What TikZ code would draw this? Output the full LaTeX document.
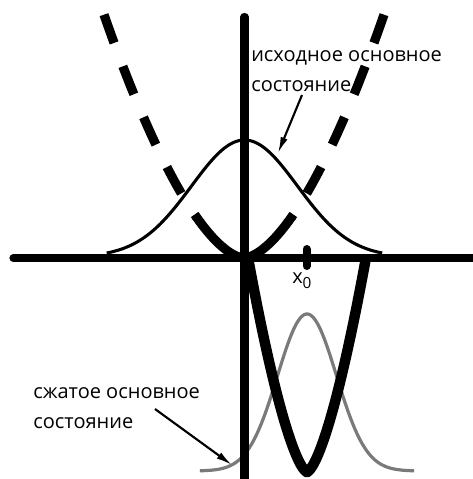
\documentclass[tikz,border=0pt]{standalone}
\usepackage{fontspec}
\setmainfont{Open Sans}
\usetikzlibrary{arrows.meta}
\begin{document}
\begin{tikzpicture}[x=0.75pt,y=-0.75pt,
  axisline/.style={line width=6.2pt,line cap=round},
  wellcurve/.style={line width=6.9pt},
  dashedwell/.style={wellcurve,dash pattern=on 22.5pt off 18.75pt},
  shiftedwell/.style={line width=7.8pt},
  wavefn/.style={line width=2.3pt},
  graywave/.style={line width=2.4pt,draw=black!52},
  pointer/.style={line width=1.6pt,-{Latex[length=12pt,width=5.5pt]}},
  lbl/.style={inner sep=0pt,font=\fontsize{15}{22.5}\selectfont,align=left}]
\useasboundingbox (0,0) rectangle (473,479);
% gray squeezed state
\draw[graywave] plot[domain=-3.63:3.63,samples=120] ({307+29.5*\x},{471-157*exp(-0.5*\x*\x)});
% axes
\draw[axisline] (13.5,258) -- (485,258);
\draw[axisline] (244.5,17) -- (244.5,490);
% original (dashed) potential
\begin{scope}
  \clip (0,0) rectangle (473,219);
  \draw[dashedwell] plot[domain=-140:-0.01,samples=140] ({244+\x},{258-0.07*abs(\x)^1.65});
  \draw[dashedwell] plot[domain=140:0.01,samples=140] ({244+\x},{258-0.07*abs(\x)^1.65});
\end{scope}
\begin{scope}
  \clip (0,219) rectangle (473,300);
  \draw[wellcurve] plot[domain=-80:80,samples=160] ({244+\x},{258-0.07*abs(\x)^1.65});
\end{scope}
% original ground state
\draw[wavefn] plot[domain=-2.6:2.6,samples=120] ({244.5+53*\x},{257-117*exp(-0.5*\x*\x)});
% shifted potential
\draw[shiftedwell] plot[domain=-59:59,samples=120] ({307+\x},{472-0.473*abs(\x)^1.5});
% x0 tick
\draw[line width=6pt,line cap=round] (306.5,249) -- (306.5,266);
\node[inner sep=0pt,anchor=base west,font=\fontsize{15}{18}\selectfont] (xlab) at (292,283) {x\raisebox{-3.75pt}{\fontsize{11.5}{12}\selectfont 0}};
% labels
\node[lbl,anchor=base west] (orig) at (251,91) {исходное основное\\состояние};
\node[lbl,anchor=base west] (sq) at (33,428) {сжатое основное\\состояние};
\coordinate (a1s) at (302,95);
\coordinate (a1e) at (278,153);
\coordinate (a2s) at (155,409);
\coordinate (a2e) at (232,465);
\draw[pointer] (a1s) -- (a1e);
\draw[pointer] (a2s) -- (a2e);
\end{tikzpicture}
\end{document}
